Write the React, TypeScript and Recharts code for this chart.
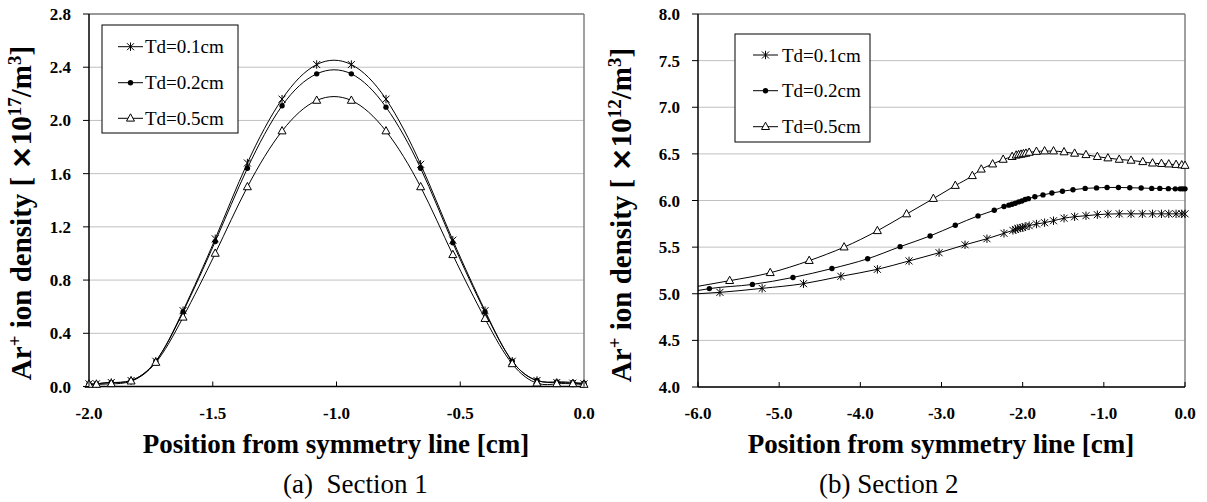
import React from 'react'
import { LineChart, Line, XAxis, YAxis, CartesianGrid, ReferenceLine } from 'recharts'

const FONT = '"Liberation Serif", "Times New Roman", serif'

const seriesNames = ['Td=0.1cm', 'Td=0.2cm', 'Td=0.5cm']
const markerKinds = ['star', 'dot', 'tri']

// (a) Section 1 — all three series share the same positions
const s1X = [-2.0, -1.97, -1.91, -1.83, -1.73, -1.62, -1.49, -1.36, -1.22, -1.08, -0.94, -0.8, -0.66, -0.53, -0.4, -0.29, -0.19, -0.11, -0.045, 0.0]
const s1Td01 = [0.02, 0.02, 0.03, 0.045, 0.19, 0.57, 1.11, 1.68, 2.16, 2.42, 2.42, 2.16, 1.67, 1.1, 0.57, 0.19, 0.045, 0.03, 0.025, 0.02]
const s1Td02 = [0.02, 0.02, 0.03, 0.045, 0.19, 0.56, 1.09, 1.64, 2.11, 2.35, 2.35, 2.1, 1.64, 1.08, 0.56, 0.19, 0.045, 0.035, 0.03, 0.025]
const s1Td05 = [0.015, 0.015, 0.02, 0.04, 0.18, 0.52, 1.0, 1.5, 1.92, 2.15, 2.15, 1.92, 1.5, 0.99, 0.51, 0.17, 0.025, 0.02, 0.02, 0.015]
const s1XTicks = [-2.0, -1.5, -1.0, -0.5, 0.0]
const s1YTicks = [0, 0.4, 0.8, 1.2, 1.6, 2.0, 2.4, 2.8]

// (b) Section 2 — each series has its own positions
const s2Td01X = [-6.0, -5.73, -5.21, -4.7, -4.24, -3.79, -3.4, -3.03, -2.71, -2.44, -2.23, -2.12, -2.09, -2.06, -2.03, -2.0, -1.97, -1.92, -1.83, -1.73, -1.62, -1.49, -1.36, -1.22, -1.08, -0.95, -0.81, -0.665, -0.525, -0.4, -0.29, -0.2, -0.11, -0.04, 0.0]
const s2Td01 = [5.0, 5.015, 5.058, 5.108, 5.187, 5.262, 5.352, 5.44, 5.525, 5.59, 5.648, 5.68, 5.69, 5.7, 5.705, 5.71, 5.72, 5.73, 5.748, 5.762, 5.783, 5.81, 5.826, 5.837, 5.848, 5.855, 5.857, 5.857, 5.857, 5.857, 5.857, 5.857, 5.857, 5.857, 5.857]
const s2Td02X = [-6.0, -5.86, -5.33, -4.83, -4.35, -3.91, -3.51, -3.14, -2.83, -2.55, -2.35, -2.23, -2.17, -2.13, -2.09, -2.05, -2.01, -1.97, -1.93, -1.85, -1.75, -1.64, -1.51, -1.38, -1.23, -1.09, -0.96, -0.82, -0.68, -0.54, -0.41, -0.31, -0.205, -0.12, -0.06, -0.03, 0.0]
const s2Td02 = [5.035, 5.055, 5.1, 5.175, 5.27, 5.375, 5.505, 5.62, 5.735, 5.835, 5.895, 5.935, 5.95, 5.96, 5.97, 5.985, 5.995, 6.01, 6.02, 6.04, 6.06, 6.08, 6.1, 6.115, 6.13, 6.135, 6.14, 6.14, 6.137, 6.134, 6.13, 6.13, 6.127, 6.125, 6.125, 6.125, 6.125]
const s2Td05X = [-6.0, -5.61, -5.11, -4.63, -4.2, -3.79, -3.43, -3.1, -2.83, -2.62, -2.51, -2.37, -2.24, -2.13, -2.08, -2.05, -2.02, -1.99, -1.96, -1.92, -1.83, -1.73, -1.62, -1.49, -1.36, -1.22, -1.08, -0.95, -0.81, -0.665, -0.52, -0.4, -0.29, -0.2, -0.11, -0.04, 0.0]
const s2Td05 = [5.08, 5.14, 5.225, 5.355, 5.5, 5.675, 5.855, 6.02, 6.16, 6.265, 6.335, 6.39, 6.44, 6.47, 6.485, 6.49, 6.495, 6.5, 6.505, 6.515, 6.525, 6.53, 6.53, 6.52, 6.505, 6.49, 6.47, 6.455, 6.44, 6.43, 6.415, 6.4, 6.395, 6.39, 6.385, 6.38, 6.375]
const s2XTicks = [-6.0, -5.0, -4.0, -3.0, -2.0, -1.0, 0.0]
const s2YTicks = [4.0, 4.5, 5.0, 5.5, 6.0, 6.5, 7.0, 7.5, 8.0]

const zip = (xs: number[], ys: number[]) => xs.map((x, i) => ({ x, y: ys[i] }))

function Marker({ kind, cx, cy }: { kind: string; cx: number; cy: number }) {
  if (kind === 'star') {
    return (
      <g stroke="#000" strokeWidth={1}>
        <line x1={cx - 3.5} y1={cy - 3.5} x2={cx + 3.5} y2={cy + 3.5} />
        <line x1={cx - 3.5} y1={cy + 3.5} x2={cx + 3.5} y2={cy - 3.5} />
        <line x1={cx} y1={cy - 4.2} x2={cx} y2={cy + 4.2} />
      </g>
    )
  }
  if (kind === 'dot') return <circle cx={cx} cy={cy} r={2.7} fill="#000" />
  return <polygon points={`${cx},${cy - 4.5} ${cx - 4},${cy + 2.8} ${cx + 4},${cy + 2.8}`} fill="#fff" stroke="#000" strokeWidth={1} />
}

function XTick({ x, y, payload }: any) {
  return (
    <g>
      <line x1={x} y1={y} x2={x} y2={y - 5} stroke="#000" strokeWidth={1} />
      <text x={x} y={y + 32} textAnchor="middle" fontFamily={FONT} fontWeight="bold" fontSize={17} fill="#000">
        {Number(payload.value).toFixed(1)}
      </text>
    </g>
  )
}

function YTick({ x, y, payload }: any) {
  return (
    <g>
      <line x1={x - 6} y1={y} x2={x} y2={y} stroke="#000" strokeWidth={1} />
      <text x={x - 18} y={y + 6} textAnchor="end" fontFamily={FONT} fontWeight="bold" fontSize={17} fill="#000">
        {Number(payload.value).toFixed(1)}
      </text>
    </g>
  )
}

interface SeriesDef { data: { x: number; y: number }[]; kind: string; skipFirst?: boolean }

function SectionChart({ left, width, yAxisWidth, right, xDomain, xTicks, yDomain, yTicks, xAxisHeight, curve, series }: {
  left: number; width: number; yAxisWidth: number; right: number; xDomain: [number, number]; xTicks: number[]
  yDomain: [number, number]; yTicks: number[]; xAxisHeight: number; curve: 'natural' | 'monotone'; series: SeriesDef[]
}) {
  return (
    <div style={{ position: 'absolute', left, top: 0 }}>
      <LineChart width={width} height={440} margin={{ top: 14, right, bottom: 0, left: 0 }}>
        <CartesianGrid vertical={false} stroke="#c0c0c0" strokeWidth={1} />
        <XAxis type="number" dataKey="x" domain={xDomain} ticks={xTicks} interval={0} height={xAxisHeight}
          axisLine={{ stroke: '#000', strokeWidth: 1.5 }} tickLine={false} tickSize={0} tickMargin={0} tick={<XTick />} />
        <YAxis type="number" domain={yDomain} ticks={yTicks} interval={0} width={yAxisWidth}
          axisLine={{ stroke: '#000', strokeWidth: 1.5 }} tickLine={false} tickSize={0} tickMargin={0} tick={<YTick />} />
        <ReferenceLine y={yDomain[1]} stroke="#808080" strokeWidth={1.5} />
        <ReferenceLine x={xDomain[1]} stroke="#808080" strokeWidth={1.5} />
        {series.map((s, si) => (
          <Line key={si} data={s.data} dataKey="y" type={curve} stroke="#000" strokeWidth={1}
            isAnimationActive={false} activeDot={false}
            dot={(p: any) => (s.skipFirst && p.index === 0)
              ? <g key={`n-${si}-${p.index}`} />
              : <Marker key={`m-${si}-${p.index}`} kind={s.kind} cx={p.cx} cy={p.cy} />} />
        ))}
      </LineChart>
    </div>
  )
}

function LegendBox({ x, y, w, h, rows, lineX, textX }: { x: number; y: number; w: number; h: number; rows: number[]; lineX: [number, number]; textX: number }) {
  return (
    <g>
      <rect x={x} y={y} width={w} height={h} fill="#fff" stroke="#000" strokeWidth={1} />
      {seriesNames.map((name, i) => {
        const cy = y + rows[i]
        const mx = x + (lineX[0] + lineX[1]) / 2
        return (
          <g key={name}>
            <line x1={x + lineX[0]} y1={cy} x2={x + lineX[1]} y2={cy} stroke="#000" strokeWidth={1} />
            <Marker kind={markerKinds[i]} cx={mx} cy={cy} />
            <text x={x + textX} y={cy + 6.5} fontFamily={FONT} fontSize={19} fill="#000">{name}</text>
          </g>
        )
      })}
    </g>
  )
}

function YTitle({ x, y, exp }: { x: number; y: number; exp: string }) {
  return (
    <text transform={`translate(${x},${y}) rotate(-90)`} textAnchor="middle" fontFamily={FONT} fontWeight="bold" fontSize={29} fill="#000">
      Ar<tspan dy={-10} fontSize={19}>+</tspan><tspan dy={10}> ion density [ </tspan>
      <tspan fontFamily='"DejaVu Sans", sans-serif'>×</tspan>10<tspan dy={-10} fontSize={19}>{exp}</tspan>
      <tspan dy={10}>/m</tspan><tspan dy={-10} fontSize={19}>3</tspan><tspan dy={10}>]</tspan>
    </text>
  )
}

export default function App() {
  const s1Series: SeriesDef[] = [
    { data: zip(s1X, s1Td01), kind: 'star' },
    { data: zip(s1X, s1Td02), kind: 'dot' },
    { data: zip(s1X, s1Td05), kind: 'tri' },
  ]
  const s2Series: SeriesDef[] = [
    { data: zip(s2Td01X, s2Td01), kind: 'star', skipFirst: true },
    { data: zip(s2Td02X, s2Td02), kind: 'dot', skipFirst: true },
    { data: zip(s2Td05X, s2Td05), kind: 'tri', skipFirst: true },
  ]
  return (
    <div style={{ position: 'absolute', left: 0, top: 0, width: 1207, height: 502, background: '#fff', overflow: 'hidden' }}>
      <SectionChart left={0} width={600} yAxisWidth={89} right={16} xDomain={[-2, 0]} xTicks={s1XTicks}
        yDomain={[0, 2.8]} yTicks={s1YTicks} xAxisHeight={53.5} curve="natural" series={s1Series} />
      <SectionChart left={600} width={607} yAxisWidth={98} right={22} xDomain={[-6, 0]} xTicks={s2XTicks}
        yDomain={[4, 8]} yTicks={s2YTicks} xAxisHeight={53} curve="monotone" series={s2Series} />
      <svg width={1207} height={502} style={{ position: 'absolute', left: 0, top: 0, pointerEvents: 'none' }}>
        <LegendBox x={102} y={25} w={136} h={108} rows={[21.7, 57.7, 93.3]} lineX={[16, 41]} textX={43} />
        <LegendBox x={735} y={34} w={135} h={108} rows={[21, 56.7, 92.7]} lineX={[18, 43]} textX={47} />
        <YTitle x={31} y={213} exp="17" />
        <YTitle x={631} y={215} exp="12" />
        <text x={336} y={453} textAnchor="middle" fontFamily={FONT} fontWeight="bold" fontSize={27} fill="#000">Position from symmetry line [cm]</text>
        <text x={941} y={453} textAnchor="middle" fontFamily={FONT} fontWeight="bold" fontSize={27} fill="#000">Position from symmetry line [cm]</text>
        <text x={283} y={493} fontFamily={FONT} fontSize={27} fill="#000" style={{ whiteSpace: 'pre' }}>{'(a)  Section 1'}</text>
        <text x={819} y={493} fontFamily={FONT} fontSize={27} fill="#000">(b) Section 2</text>
      </svg>
    </div>
  )
}
